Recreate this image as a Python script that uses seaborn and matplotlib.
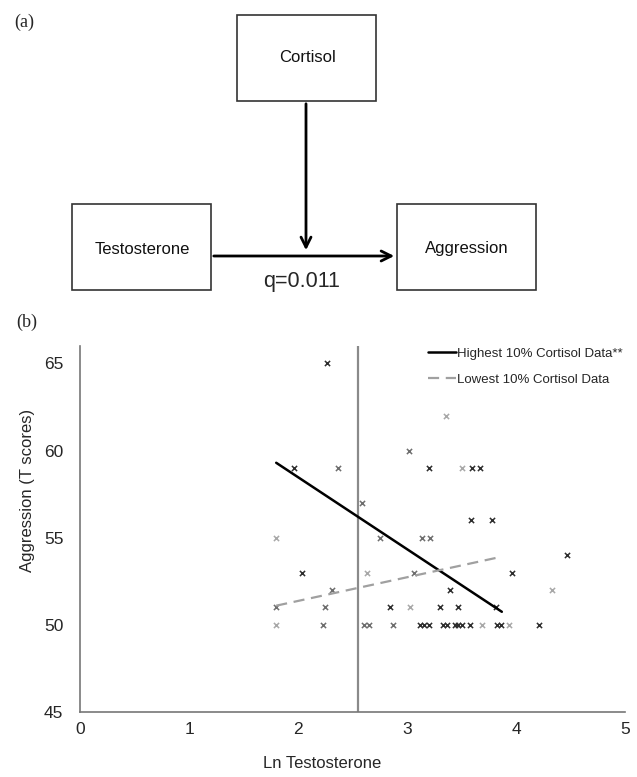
import matplotlib
matplotlib.use("Agg")
import matplotlib.pyplot as plt
import matplotlib.patches as mpatches
from matplotlib.lines import Line2D
import seaborn as sns
import pandas as pd

# Scatter data: Ln testosterone vs aggression T score
dark_x = [2.27, 1.96, 3.20, 3.60, 3.67, 3.59, 3.78, 4.47, 2.04, 3.96, 3.39, 2.84, 3.30, 3.47, 3.82,
          3.12, 3.16, 3.20, 3.33, 3.37, 3.44, 3.47, 3.50, 3.58, 3.83, 3.86, 4.21]
dark_y = [65, 59, 59, 59, 59, 56, 56, 54, 53, 53, 52, 51, 51, 51, 51,
          50, 50, 50, 50, 50, 50, 50, 50, 50, 50, 50, 50]
mid_x = [2.37, 3.02, 2.59, 2.75, 3.14, 3.21, 3.06, 2.31, 1.80, 2.25, 2.23, 2.61, 2.65, 2.87]
mid_y = [59, 60, 57, 55, 55, 55, 53, 52, 51, 51, 50, 50, 50, 50]
light_x = [3.36, 3.50, 1.80, 2.63, 4.33, 3.03, 1.80, 3.69, 3.94]
light_y = [62, 59, 55, 53, 52, 51, 50, 50, 50]

# trend lines (end points)
high_fit_x = [1.80, 3.87]
high_fit_y = [59.3, 50.75]
low_fit_x = [1.80, 3.86]
low_fit_y = [51.1, 53.9]

median_ln_t = 2.55

legend_labels = ["Highest 10% Cortisol Data**", "Lowest 10% Cortisol Data"]
x_ticks = [0, 1, 2, 3, 4, 5]
y_ticks = [45, 50, 55, 60, 65]

sns.set_style("white")
plt.rcParams['font.family'] = ['Liberation Sans', 'DejaVu Sans']

fig = plt.figure(figsize=(6.37, 7.77), dpi=100)

# ---------------- panel (a): path diagram ----------------
ax_a = fig.add_axes([0, 1 - 300 / 777, 1, 300 / 777])
ax_a.set_xlim(0, 637)
ax_a.set_ylim(300, 0)
ax_a.axis("off")

boxes = {"Cortisol": (237, 15), "Testosterone": (72, 204), "Aggression": (397, 204)}
for name, (bx, by) in boxes.items():
    ax_a.add_patch(mpatches.Rectangle((bx, by), 139, 86, fill=False, edgecolor="#333333",
                                      lw=1.2, clip_on=False))
    ty = by + 43 if name == "Cortisol" else by + 45
    ax_a.text(bx + 70, ty, name, ha="center", va="center", fontsize=12, color="#111111")

ax_a.annotate("", xy=(306, 253), xytext=(306, 101),
              arrowprops=dict(arrowstyle="->", lw=2, color="black", mutation_scale=18))
ax_a.annotate("", xy=(397, 256), xytext=(211, 256),
              arrowprops=dict(arrowstyle="->", lw=2, color="black", mutation_scale=18))
ax_a.text(302, 281, "q=0.011", ha="center", va="center", fontsize=15.5)
ax_a.text(14, 22, "(a)", ha="left", va="center", fontsize=13, family="Liberation Serif")

fig.text(16 / 637, 1 - 322 / 777, "(b)", ha="left", va="center", fontsize=13, family="Liberation Serif")

# ---------------- panel (b): scatter ----------------
ax = fig.add_axes([80 / 637, 1 - 712 / 777, 545 / 637, 366 / 777])

groups = [(dark_x, dark_y, "#2e2e2e"), (mid_x, mid_y, "#6e6e6e"), (light_x, light_y, "#a8a8a8")]
for gx, gy, col in groups:
    sns.scatterplot(x=gx, y=gy, ax=ax, marker="x", s=14, color=col, linewidth=1.1, zorder=3)

ax.axvline(median_ln_t, color="#8a8a8a", lw=1.6, zorder=1)
sns.lineplot(x=high_fit_x, y=high_fit_y, ax=ax, color="black", lw=1.8, zorder=4)
sns.lineplot(x=low_fit_x, y=low_fit_y, ax=ax, color="#a0a0a0", lw=1.6, zorder=4)
ax.lines[-1].set_dashes([5, 3])

ax.set_xlim(0, 5)
ax.set_ylim(45, 66)
ax.set_xticks(x_ticks)
ax.set_yticks(y_ticks)
ax.tick_params(axis="y", direction="out", length=4, color="#777777", labelsize=12.5, pad=8)
ax.tick_params(axis="x", direction="inout", length=5, color="#777777", labelsize=12.5, pad=5)
for side in ["top", "right"]:
    ax.spines[side].set_visible(False)
for side in ["left", "bottom"]:
    ax.spines[side].set_color("#777777")
    ax.spines[side].set_linewidth(1.2)

ax.set_xlabel("Ln Testosterone", fontsize=12)
ax.xaxis.set_label_coords(0.444, -0.12)
ax.set_ylabel("Aggression (T scores)", fontsize=12)
ax.yaxis.set_label_coords(-0.097, 0.604)
ax.yaxis.label.set_va("center")

handles = [Line2D([0], [0], color="black", lw=1.8),
           Line2D([0], [0], color="#a0a0a0", lw=1.6, dashes=[5, 3])]
ax.legend(handles, legend_labels, loc="upper right", frameon=False, fontsize=9.5,
          handlelength=2.1, handletextpad=0.1, labelspacing=1.05,
          borderaxespad=0, bbox_to_anchor=(1.005, 1.01))

fig.savefig("out.png", dpi=100)
